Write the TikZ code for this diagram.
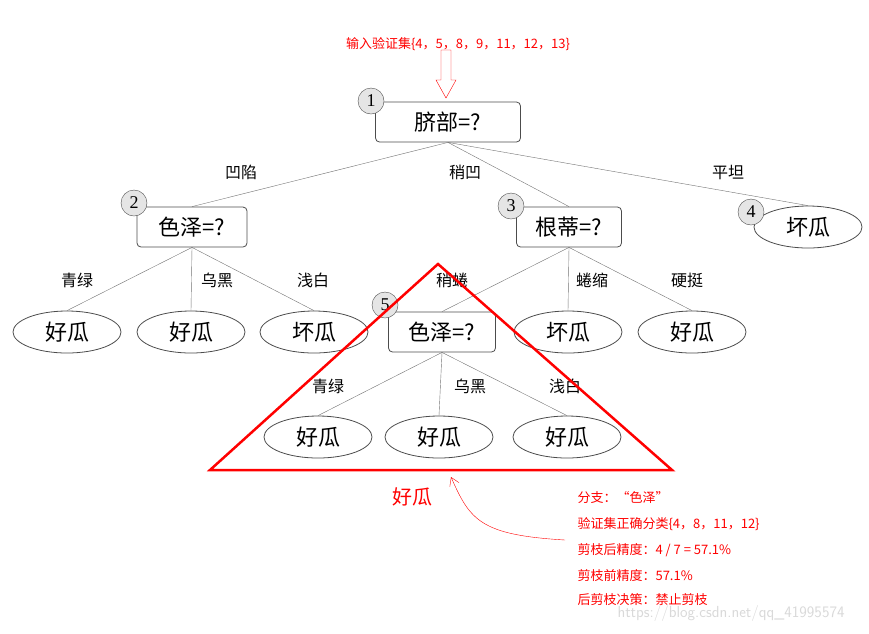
\documentclass[tikz,border=0pt]{standalone}
\usepackage{fontspec}
\setmainfont{Liberation Serif}
\newfontfamily\cjk{Noto Sans CJK SC}
\usetikzlibrary{shapes.geometric,arrows.meta}

\tikzset{
  testbox/.style={draw=black!70,thick,rounded corners=4pt,minimum width=#1,minimum height=40pt,font=\cjk\fontsize{22}{24}\selectfont,inner sep=0pt},
  leaf/.style={draw=black!70,thick,ellipse,minimum width=108pt,minimum height=42pt,font=\cjk\fontsize{22}{24}\selectfont,inner sep=0pt,fill=white},
  numball/.style={draw=black!70,fill=black!10,circle,minimum size=26pt,inner sep=0pt,font=\fontsize{18}{20}\selectfont},
  edgelabel/.style={font=\cjk\fontsize{16}{18}\selectfont},
  branch/.style={draw=black!55},
  note/.style={font=\cjk\fontsize{13}{15}\selectfont,text=red,anchor=west}
}

\begin{document}
\begin{tikzpicture}[x=1pt,y=-1pt]
  \useasboundingbox (0,0) rectangle (869,633);
  % tree
  \node[testbox=145pt] (root) at (448,122) {脐部=?};
  \node[numball] (n1) at (371,101) {1};
  \node[testbox=110pt] (color) at (192,227) {色泽=?};
  \node[numball] (n2) at (134,203) {2};
  \node[testbox=105pt] (stem) at (569,227) {根蒂=?};
  \node[numball] (n3) at (511,206) {3};
  \node[leaf] (bad4) at (808,227) {坏瓜};
  \node[numball] (n4) at (751,212) {4};
  \node[leaf] (good1) at (67,332) {好瓜};
  \node[leaf] (good2) at (191,332) {好瓜};
  \node[leaf] (bad1) at (314,332) {坏瓜};
  \node[testbox=107pt] (color5) at (442,332) {色泽=?};
  \node[numball] (n5) at (385,305) {5};
  \node[leaf] (bad2) at (568,332) {坏瓜};
  \node[leaf] (good3) at (692,332) {好瓜};
  \node[leaf] (good4) at (318,437) {好瓜};
  \node[leaf] (good5) at (439,437) {好瓜};
  \node[leaf] (good6) at (567,437) {好瓜};
  % branches
  \draw[branch] (root.south) -- (color.north);
  \draw[branch] (root.south) -- (stem.north);
  \draw[branch] (root.south) -- (bad4.north);
  \draw[branch] (color.south) -- (good1.north);
  \draw[branch] (color.south) -- (good2.north);
  \draw[branch] (color.south) -- (bad1.north);
  \draw[branch] (stem.south) -- (color5.north);
  \draw[branch] (stem.south) -- (bad2.north);
  \draw[branch] (stem.south) -- (good3.north);
  \draw[branch] (color5.south) -- (good4.north);
  \draw[branch] (color5.south) -- (good5.north);
  \draw[branch] (color5.south) -- (good6.north);
  \node[edgelabel] (l1) at (241,172) {凹陷};
  \node[edgelabel] (l2) at (465,172) {稍凹};
  \node[edgelabel] (l3) at (728,172) {平坦};
  \node[edgelabel] (l4) at (77,280) {青绿};
  \node[edgelabel] (l5) at (217,280) {乌黑};
  \node[edgelabel] (l6) at (313,280) {浅白};
  \node[edgelabel] (l7) at (452,280) {稍蜷};
  \node[edgelabel] (l8) at (592,280) {蜷缩};
  \node[edgelabel] (l9) at (687,280) {硬挺};
  \node[edgelabel] (l10) at (328,386) {青绿};
  \node[edgelabel] (l11) at (470,386) {乌黑};
  \node[edgelabel] (l12) at (565,386) {浅白};
  % pruning annotation
  \draw[red,line width=2.5pt,line join=miter] (438,264) -- (672,470) -- (210,470) -- cycle;
  \node[font=\cjk\fontsize{20}{22}\selectfont,text=red] (result) at (412,497) {好瓜};
  \node[font=\cjk\fontsize{13}{15}\selectfont,text=red] (input) at (458,44) {输入验证集\{4，5，8，9，11，12，13\}};
  \draw[red,fill=white] (441,50) -- (451,50) -- (451,80) -- (456,80) -- (446,98) -- (436,80) -- (441,80) -- cycle;
  \coordinate (tail) at (565,540);
  \draw[red,-{Straight Barb[length=8pt,width=10pt]}] (tail) .. controls (480,535) and (470,520) .. (451,477);
  \node[note] (t1) at (574,498) {分支：“色泽”};
  \node[note] (t2) at (574,524) {验证集正确分类\{4，8，11，12\}};
  \node[note] (t3) at (574,550) {剪枝后精度：4 / 7 = 57.1\%};
  \node[note] (t4) at (574,576) {剪枝前精度：57.1\%};
  \node[note] (t5) at (574,600) {后剪枝决策：禁止剪枝};
  \node[font=\sffamily\fontsize{16}{18}\selectfont,text=black!15,anchor=west] (mark) at (614,613) {https://blog.csdn.net/qq\_41995574};
\end{tikzpicture}
\end{document}
